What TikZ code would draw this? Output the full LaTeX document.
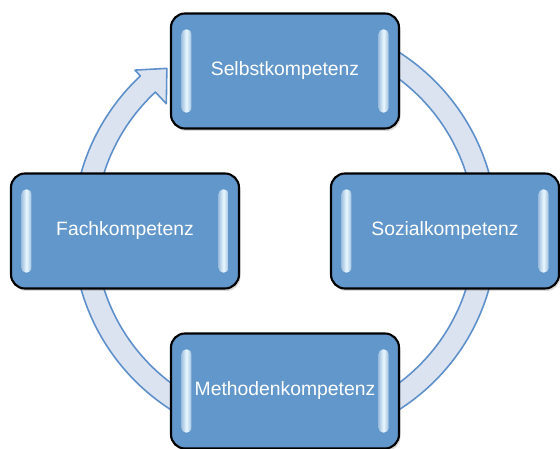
\documentclass[tikz,border=0pt]{standalone}
\usepackage{fontspec}
\setmainfont{Liberation Sans}
\usetikzlibrary{shadows}
\definecolor{boxblue}{HTML}{6297CB}
\definecolor{glarelight}{HTML}{EAF8FF}
\definecolor{ringfill}{HTML}{DCE3F0}
\definecolor{ringline}{HTML}{5D8FCB}
\tikzset{
    kbox/.style = {rectangle, rounded corners=0.28cm, line width=1.2pt, draw=black, fill=boxblue,
        minimum width=4.56cm, minimum height=2.3cm, inner sep=0pt, text=white,
        font=\fontsize{11}{13}\selectfont,
        drop shadow={shadow xshift=0.03cm, shadow yshift=-0.05cm, opacity=0.25, fill=black!60}},
    ring/.style = {fill=ringfill, draw=ringline, line width=0.9pt, line join=round},
    glare/.style = {rounded corners=0.09cm, left color=boxblue!60!white, right color=boxblue!60!white, middle color=glarelight}
}
\begin{document}
\begin{tikzpicture}
\useasboundingbox (-5.7,-4.36) rectangle (5.5,4.62);
%
% circular arrow behind the boxes
\path[ring] (85:4.24) arc[start angle=85, end angle=-227, radius=4.24]
    -- (-227:4.4) -- (-234:4.02) -- (-227:3.48) -- (-227:3.8)
    arc[start angle=-227, end angle=85, radius=3.8] -- cycle;
%
\node[kbox] at (0,3.2) (selbst) {Selbstkompetenz};
\node[kbox] at (3.2,0) (sozial) {Sozialkompetenz};
\node[kbox] at (0,-3.2) (methode) {Methodenkompetenz};
\node[kbox] at (-3.2,0) (fach) {Fachkompetenz};
%
% light bars inside the boxes
\shade[glare] ([xshift=0.23cm,yshift=0.34cm]selbst.south west) rectangle ([xshift=0.43cm,yshift=-0.34cm]selbst.north west);
\shade[glare] ([xshift=-0.43cm,yshift=0.34cm]selbst.south east) rectangle ([xshift=-0.23cm,yshift=-0.34cm]selbst.north east);
\shade[glare] ([xshift=0.23cm,yshift=0.34cm]sozial.south west) rectangle ([xshift=0.43cm,yshift=-0.34cm]sozial.north west);
\shade[glare] ([xshift=-0.43cm,yshift=0.34cm]sozial.south east) rectangle ([xshift=-0.23cm,yshift=-0.34cm]sozial.north east);
\shade[glare] ([xshift=0.23cm,yshift=0.34cm]methode.south west) rectangle ([xshift=0.43cm,yshift=-0.34cm]methode.north west);
\shade[glare] ([xshift=-0.43cm,yshift=0.34cm]methode.south east) rectangle ([xshift=-0.23cm,yshift=-0.34cm]methode.north east);
\shade[glare] ([xshift=0.23cm,yshift=0.34cm]fach.south west) rectangle ([xshift=0.43cm,yshift=-0.34cm]fach.north west);
\shade[glare] ([xshift=-0.43cm,yshift=0.34cm]fach.south east) rectangle ([xshift=-0.23cm,yshift=-0.34cm]fach.north east);
\end{tikzpicture}
\end{document}
